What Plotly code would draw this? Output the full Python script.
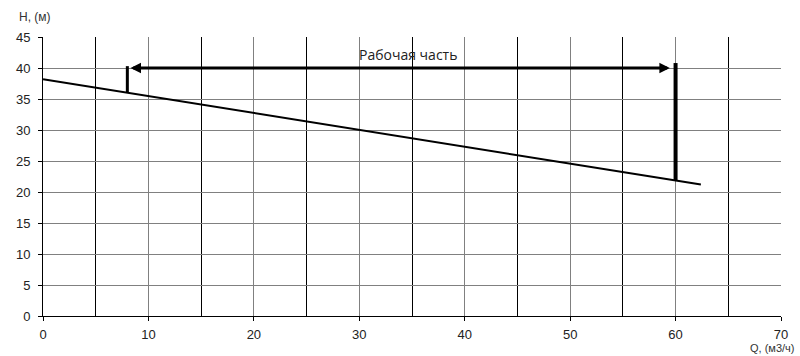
import plotly.graph_objects as go

# Pump curve H(Q)
q = [0, 62.4]
h = [38.2, 21.2]

# Working range markers
work_q = [8, 60]
work_left_h = [36.0, 40.3]
work_right_h = [21.9, 40.8]
arrow_h = 40
label_text = "Рабочая часть"
label_q = 34.6
label_h = 42.2

x_title = "Q, (м3/ч)"
y_title = "H, (м)"

fig = go.Figure()
fig.add_trace(go.Scatter(x=q, y=h, mode="lines",
                         line=dict(color="black", width=2), showlegend=False,
                         hoverinfo="skip"))

# vertical markers
fig.add_shape(type="line", x0=work_q[0], x1=work_q[0], y0=work_left_h[0], y1=work_left_h[1],
              line=dict(color="black", width=3), xref="x", yref="y")
fig.add_shape(type="line", x0=work_q[1], x1=work_q[1], y0=work_right_h[0], y1=work_right_h[1],
              line=dict(color="black", width=4), xref="x", yref="y")

# double-headed arrow
fig.add_annotation(x=work_q[0] + 0.3, y=arrow_h, ax=work_q[1] - 0.4, ay=arrow_h,
                   xref="x", yref="y", axref="x", ayref="y",
                   text="", showarrow=True, arrowhead=2, startarrowhead=2,
                   arrowside="end+start", arrowwidth=3, arrowsize=0.7,
                   startarrowsize=0.7, arrowcolor="black")

fig.add_annotation(x=label_q, y=label_h, xref="x", yref="y", text=label_text,
                   showarrow=False, font=dict(family="Open Sans, Liberation Sans", size=14, color="#222"))

fig.update_layout(
    width=800, height=356,
    margin=dict(l=43, r=19, t=37, b=40),
    paper_bgcolor="white", plot_bgcolor="white",
    font=dict(family="Liberation Sans, Arial", size=13, color="#222"),
    xaxis=dict(range=[0, 70], dtick=10, tick0=0, showgrid=True, gridcolor="#808080", gridwidth=1,
               minor=dict(dtick=5, showgrid=True, gridcolor="black", gridwidth=1),
               showline=True, linecolor="black", linewidth=1,
               ticks="outside", ticklen=4, tickcolor="black", zeroline=False,
               ticklabelstandoff=2, fixedrange=True),
    yaxis=dict(range=[0, 45], dtick=5, tick0=0, showgrid=True, gridcolor="#808080", gridwidth=1,
               showline=True, linecolor="black", linewidth=1,
               ticks="outside", ticklen=4, tickcolor="black", zeroline=False,
               ticklabelstandoff=5, fixedrange=True),
)

# axis titles
fig.add_annotation(x=-26 / 738, y=1 + 20 / 279, xref="paper", yref="paper",
                   text=y_title, showarrow=False, xanchor="left", yanchor="middle",
                   font=dict(family="Liberation Sans, Arial", size=12, color="#333"))
fig.add_annotation(x=1 + 15 / 738, y=-32 / 279, xref="paper", yref="paper",
                   text=x_title, showarrow=False, xanchor="right", yanchor="middle",
                   font=dict(family="Liberation Sans, Arial", size=11, color="#333"))

fig.write_html("out.html")
